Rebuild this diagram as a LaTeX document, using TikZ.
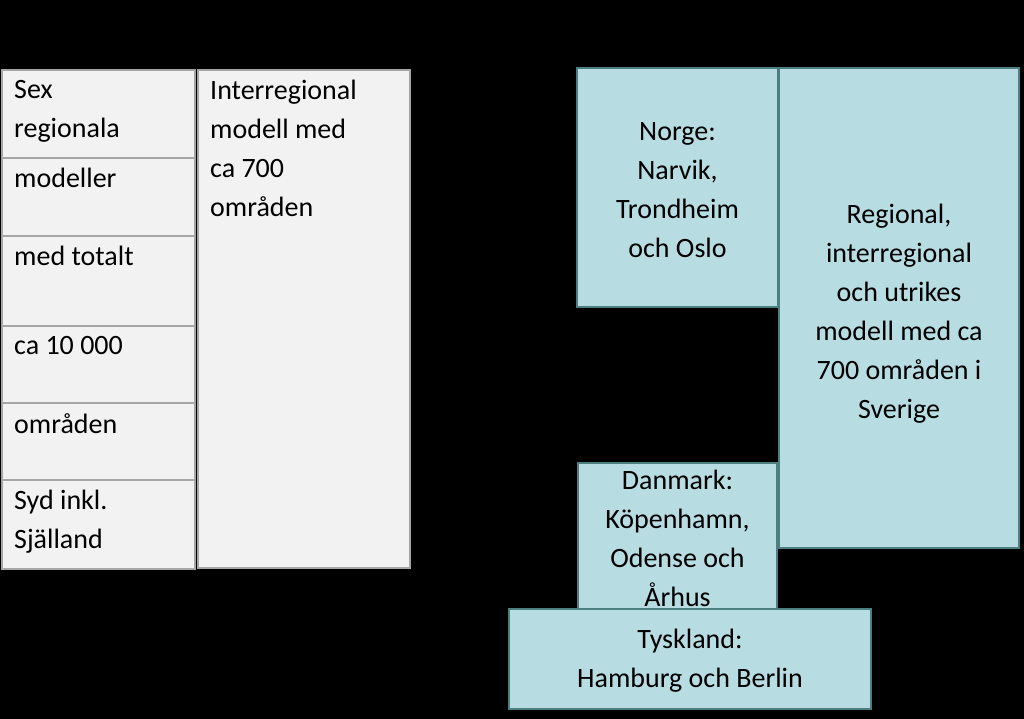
\documentclass[tikz,border=0pt]{standalone}
\usepackage{fontspec}
\setmainfont{Carlito}
\begin{document}
\begin{tikzpicture}[x=1pt,y=-1pt,
  gbox/.style={draw=gray!70,fill=gray!10,line width=1.2pt},
  tbox/.style={draw=gray!60!teal,fill={rgb,255:red,183;green,221;blue,226},line width=2pt},
  lt/.style={anchor=north west,align=left,font=\fontsize{28}{39}\selectfont,inner sep=0pt},
  ct/.style={align=center,font=\fontsize{28}{39}\selectfont,inner sep=0pt}]
\fill[black] (0,0) rectangle (1024,719);
\useasboundingbox (0,0) rectangle (1024,719);
\foreach \a/\b/\t [count=\i] in {70/158/{Sex\\regionala},158/236/modeller,236/326/{med totalt},326/403/{ca 10 000},403/480/områden,480/569/{Syd inkl.\\Själland}}{
  \draw[gbox] (2,\a) rectangle (195,\b);
  \node[lt] (l\i) at (14,\a+10) {\t};
}
\draw[gbox] (198,70) rectangle (410,568);
\node[lt] (inter) at (210,80) {Interregional\\modell med\\ca 700\\områden};
\draw[tbox] (577,68) rectangle (778,307);
\node[ct] (norge) at (677.5,190) {Norge:\\Narvik,\\Trondheim\\och Oslo};
\draw[tbox] (779,68) rectangle (1019,548);
\node[ct] (reg) at (899,314) {Regional,\\interregional\\och utrikes\\modell med ca\\700 områden i\\Sverige};
\draw[tbox] (578,463) rectangle (777,609);
\node[ct] (dan) at (677.5,538) {Danmark:\\Köpenhamn,\\Odense och\\Århus};
\draw[tbox] (509,609) rectangle (871,709);
\node[ct] (tys) at (690,661) {Tyskland:\\Hamburg och Berlin};
\end{tikzpicture}
\end{document}
